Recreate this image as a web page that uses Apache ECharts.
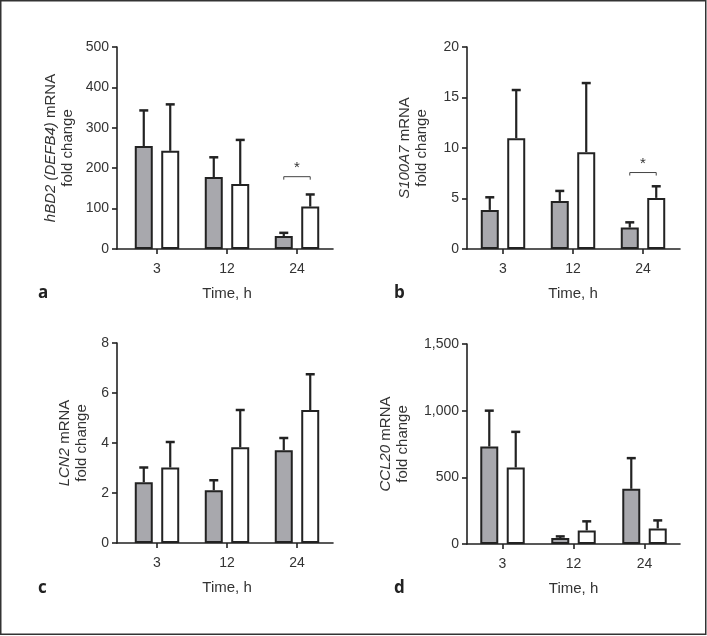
<!DOCTYPE html>
<html><head><meta charset="utf-8">
<script src="https://cdn.jsdelivr.net/npm/echarts@6/dist/echarts.min.js"></script>
<style>html,body{margin:0;padding:0;background:#fff}#c{width:707px;height:636px}</style>
</head><body><div id="c"></div>
<script>
// ---- data ----
const categories = ['3', '12', '24'];

const hbd2Gray = [255, 178, 32];
const hbd2GraySD = [88, 49, 8];
const hbd2White = [243, 161, 105];
const hbd2WhiteSD = [115, 109, 30];
const hbd2Sig = [null, null, 179];
const hbd2Ticks = [0, 100, 200, 300, 400, 500];

const s100Gray = [3.87, 4.76, 2.12];
const s100GraySD = [1.25, 0.99, 0.52];
const s100White = [10.97, 9.59, 5.06];
const s100WhiteSD = [4.77, 6.84, 1.15];
const s100Sig = [null, null, 7.57];
const s100Ticks = [0, 5, 10, 15, 20];

const lcn2Gray = [2.43, 2.11, 3.71];
const lcn2GraySD = [0.59, 0.40, 0.49];
const lcn2White = [3.02, 3.83, 5.32];
const lcn2WhiteSD = [1.02, 1.49, 1.43];
const lcn2Sig = [null, null, null];
const lcn2Ticks = [0, 2, 4, 6, 8];

const ccl20Gray = [731, 45, 414];
const ccl20GraySD = [269, 12, 230];
const ccl20White = [574, 102, 117];
const ccl20WhiteSD = [267, 68, 60];
const ccl20Sig = [null, null, null];
const ccl20Ticks = [0, 500, 1000, 1500];

const panelLetters = ['a', 'b', 'c', 'd'];
const yTitles = [
  '{i|hBD2 (DEFB4)} mRNA\nfold change',
  '{i|S100A7} mRNA\nfold change',
  '{i|LCN2} mRNA\nfold change',
  '{i|CCL20} mRNA\nfold change'
];
const xTitle = 'Time, h';

// ---- layout / style ----
const FONT = '"Liberation Sans", Arial, sans-serif';
const TXT = '#333';
const INK = '#222';
const GRAY = '#a8a8ad';
const BAR_W = 18, BAR_GAP = 0.47;
const OFF = (BAR_W + BAR_W * BAR_GAP) / 2;

const panels = [
  {gray: hbd2Gray, graySD: hbd2GraySD, white: hbd2White, whiteSD: hbd2WhiteSD, sig: hbd2Sig, ticks: hbd2Ticks,
   frame: {left: 117, top: 47, width: 216, height: 202}, data: {left: 122, top: 47, width: 210, height: 202},
   letter: {x: 38, y: 304}, nameGap: 41},
  {gray: s100Gray, graySD: s100GraySD, white: s100White, whiteSD: s100WhiteSD, sig: s100Sig, ticks: s100Ticks,
   frame: {left: 467, top: 47, width: 213, height: 202}, data: {left: 468, top: 47, width: 210, height: 202},
   letter: {x: 394, y: 304}, nameGap: 37},
  {gray: lcn2Gray, graySD: lcn2GraySD, white: lcn2White, whiteSD: lcn2WhiteSD, sig: lcn2Sig, ticks: lcn2Ticks,
   frame: {left: 117, top: 343, width: 216, height: 200}, data: {left: 122, top: 343, width: 210, height: 200},
   letter: {x: 38, y: 599}, nameGap: 27},
  {gray: ccl20Gray, graySD: ccl20GraySD, white: ccl20White, whiteSD: ccl20WhiteSD, sig: ccl20Sig, ticks: ccl20Ticks,
   frame: {left: 467, top: 344, width: 213, height: 200}, data: {left: 467, top: 344, width: 213, height: 200},
   letter: {x: 394, y: 599}, nameGap: 56}
];

function fmt(v) { return String(v).replace(/\B(?=(\d{3})+(?!\d))/g, ','); }

function errRender(offset) {
  return function (params, api) {
    const i = api.value(0), m = api.value(1), sd = api.value(2);
    const base = api.coord([i, m]);
    const top = api.coord([i, m + sd]);
    const cx = base[0] + offset;
    return {type: 'group', children: [
      {type: 'line', shape: {x1: cx, y1: base[1], x2: cx, y2: top[1]}, style: {stroke: INK, lineWidth: 2.2}},
      {type: 'line', shape: {x1: cx - 4.5, y1: top[1], x2: cx + 4.5, y2: top[1]}, style: {stroke: INK, lineWidth: 2.5}}
    ]};
  };
}

function sigRender(params, api) {
  const i = api.value(0), lv = api.value(1);
  const p = api.coord([i, lv]);
  const x1 = p[0] - OFF, x2 = p[0] + OFF, y = p[1];
  return {type: 'group', children: [
    {type: 'polyline', shape: {points: [[x1, y + 3], [x1, y], [x2, y], [x2, y + 3]]},
     style: {stroke: '#444', lineWidth: 1, fill: null}},
    {type: 'text', style: {text: '*', x: p[0], y: y - 1, align: 'center', verticalAlign: 'bottom',
      font: '15px ' + FONT, fill: TXT}}
  ]};
}

const grid = [], xAxis = [], yAxis = [], series = [], graphic = [];

panels.forEach((p, k) => {
  const gf = 2 * k, gd = 2 * k + 1;
  const ymin = p.ticks[0], ymax = p.ticks[p.ticks.length - 1], step = p.ticks[1] - p.ticks[0];
  grid.push(Object.assign({containLabel: false}, p.frame));
  grid.push(Object.assign({containLabel: false}, p.data));
  // frame axes
  xAxis.push({type: 'value', gridIndex: gf, min: 0, max: 1, axisLine: {show: true, onZero: false, lineStyle: {color: INK, width: 1.6}},
    axisTick: {show: false}, axisLabel: {show: false}, splitLine: {show: false}});
  yAxis.push({type: 'value', gridIndex: gf, min: ymin, max: ymax, interval: step,
    axisLine: {show: true, lineStyle: {color: INK, width: 1.6}},
    axisTick: {show: true, length: 5, lineStyle: {color: INK, width: 1.6}},
    axisLabel: {show: true, margin: 8, color: TXT, fontFamily: FONT, fontSize: 14, formatter: fmt},
    splitLine: {show: false},
    name: yTitles[k], nameLocation: 'middle', nameRotate: 90, nameGap: p.nameGap, nameMoveOverlap: false,
    nameTextStyle: {color: TXT, fontFamily: FONT, fontSize: 15, lineHeight: 17, align: 'center',
      rich: {i: {fontStyle: 'italic', color: TXT, fontFamily: FONT, fontSize: 15, lineHeight: 17}}}});
  // data axes
  xAxis.push({type: 'category', gridIndex: gd, data: categories, boundaryGap: true,
    axisLine: {show: false},
    axisTick: {show: true, alignWithLabel: true, length: 5, lineStyle: {color: INK, width: 1.6}},
    axisLabel: {show: true, margin: 13, color: TXT, fontFamily: FONT, fontSize: 14},
    name: xTitle, nameLocation: 'middle', nameGap: 37, nameMoveOverlap: false,
    nameTextStyle: {color: TXT, fontFamily: FONT, fontSize: 15}});
  yAxis.push({type: 'value', gridIndex: gd, min: ymin, max: ymax, show: false});

  const common = {type: 'bar', xAxisIndex: gd, yAxisIndex: gd, barWidth: BAR_W, barGap: (BAR_GAP * 100) + '%', z: 3,
    emphasis: {disabled: true}};
  series.push(Object.assign({}, common, {data: p.gray, itemStyle: {color: GRAY, borderColor: INK, borderWidth: 2}}));
  series.push(Object.assign({}, common, {data: p.white, itemStyle: {color: '#fff', borderColor: INK, borderWidth: 2}}));
  series.push({type: 'custom', xAxisIndex: gd, yAxisIndex: gd, z: 2, renderItem: errRender(-OFF),
    data: p.gray.map((v, i) => [i, v, p.graySD[i]])});
  series.push({type: 'custom', xAxisIndex: gd, yAxisIndex: gd, z: 2, renderItem: errRender(OFF),
    data: p.white.map((v, i) => [i, v, p.whiteSD[i]])});
  const sigData = p.sig.map((v, i) => v == null ? null : [i, v]).filter(d => d);
  if (sigData.length) {
    series.push({type: 'custom', xAxisIndex: gd, yAxisIndex: gd, z: 4, renderItem: sigRender, data: sigData});
  }
  graphic.push({type: 'text', left: p.letter.x, top: p.letter.y - 19,
    style: {text: panelLetters[k], font: 'bold 17px "Open Sans", "DejaVu Sans", sans-serif', fill: '#222'}});
});

graphic.push({type: 'rect', shape: {x: 0.75, y: 0.75, width: 705, height: 633.5},
  style: {stroke: '#333', lineWidth: 1.5, fill: null}, silent: true});

const chart = echarts.init(document.getElementById('c'), null, {renderer: 'canvas'});
chart.setOption({animation: false, backgroundColor: '#fff', grid, xAxis, yAxis, series, graphic, tooltip: {show: false}});
</script></body></html>
